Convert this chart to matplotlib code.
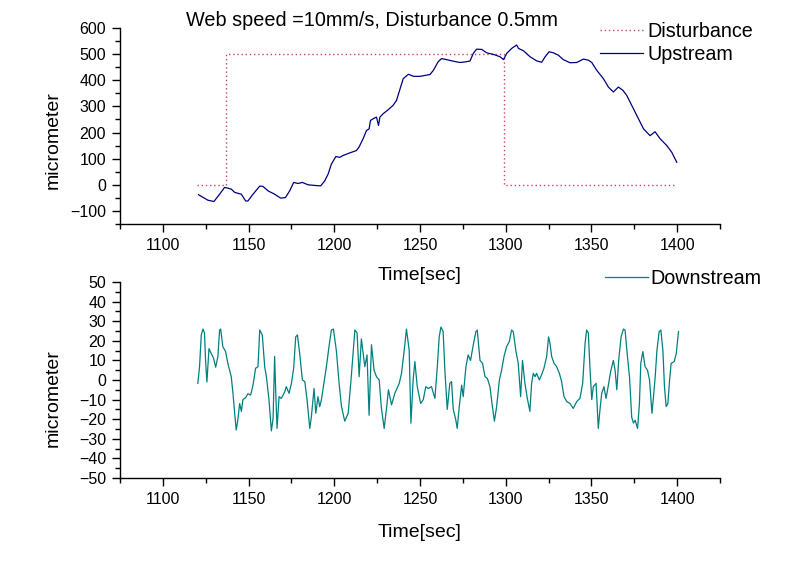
import matplotlib
matplotlib.use("Agg")
import matplotlib.pyplot as plt
from matplotlib.ticker import MultipleLocator

plt.rcParams['font.family'] = ['Liberation Sans', 'DejaVu Sans']

# ---- data ----
dist_t = [1120, 1137, 1137, 1299, 1299, 1398]
dist_v = [0, 0, 500, 500, 0, 0]

up_t = [1120.8, 1126.3, 1129.8, 1133.1, 1136.0, 1138.0, 1140.0, 1141.9, 1145.8, 1148.3,
        1149.6, 1152.6, 1156.5, 1158.4, 1161.3, 1165.2, 1168.7, 1171.5, 1174.0, 1176.3,
        1178.9, 1181.4, 1184.7, 1189.6, 1192.1, 1194.4, 1196.4, 1198.3, 1200.9, 1203.2,
        1205.1, 1209.0, 1212.9, 1214.4, 1216.8, 1218.8, 1220.3, 1221.1, 1222.7, 1224.6,
        1225.8, 1226.6, 1228.5, 1231.4, 1234.3, 1236.3, 1237.8, 1240.2, 1243.2, 1246.2,
        1250.0, 1255.8, 1257.8, 1260.6, 1262.6, 1265.5, 1269.4, 1273.3, 1277.2, 1279.2,
        1281.1, 1283.0, 1286.0, 1288.9, 1292.8, 1296.7, 1298.7, 1300.6, 1303.5, 1306.4,
        1307.4, 1310.3, 1314.2, 1318.1, 1321.0, 1323.0, 1325.3, 1327.8, 1330.7, 1333.6,
        1337.5, 1341.4, 1345.3, 1348.2, 1350.2, 1353.1, 1357.0, 1359.9, 1362.8, 1365.7,
        1368.3, 1370.6, 1374.5, 1377.4, 1380.4, 1384.2, 1387.1, 1390.1, 1394.0, 1396.9,
        1399.8]
up_v = [-38, -59, -64, -36, -10, -13, -17, -29, -36, -62,
        -62, -36, -5, -6, -23, -36, -51, -49, -23, 9,
        5, 9, 0, -3, -4, 15, 41, 79, 108, 105,
        112, 122, 131, 144, 176, 208, 214, 246, 253, 259,
        227, 259, 272, 287, 304, 323, 355, 406, 423, 415,
        415, 422, 438, 471, 483, 479, 473, 468, 471, 474,
        503, 519, 518, 505, 499, 490, 479, 503, 522, 535,
        522, 513, 490, 474, 469, 490, 509, 505, 496, 479,
        467, 468, 481, 477, 468, 438, 406, 374, 355, 374,
        362, 342, 291, 253, 214, 188, 203, 176, 150, 124,
        86]

down_t = [1120.4, 1121.4, 1122.4, 1123.4, 1124.3, 1124.9, 1125.7, 1126.9, 1128.2, 1129.6,
          1130.8, 1132.1, 1133.1, 1133.7, 1135.0, 1136.6, 1137.9, 1139.9, 1140.9, 1141.9,
          1142.8, 1143.8, 1144.8, 1145.8, 1146.7, 1148.3, 1149.6, 1151.2, 1152.6, 1154.1,
          1155.5, 1156.5, 1158.0, 1159.4, 1160.4, 1161.9, 1163.3, 1164.3, 1165.2, 1165.8,
          1166.6, 1167.8, 1169.1, 1171.1, 1172.0, 1173.6, 1175.0, 1176.3, 1177.5, 1178.5,
          1179.8, 1181.4, 1182.8, 1184.1, 1185.7, 1186.6, 1188.2, 1189.2, 1190.5, 1191.5,
          1192.5, 1193.8, 1195.4, 1196.9, 1198.3, 1199.5, 1201.2, 1202.8, 1204.2, 1206.1,
          1208.1, 1210.0, 1212.0, 1213.3, 1214.5, 1215.8, 1217.8, 1219.1, 1220.3, 1221.7,
          1223.2, 1224.6, 1226.2, 1227.5, 1229.1, 1230.4, 1231.6, 1233.4, 1235.3, 1237.9,
          1239.2, 1240.6, 1242.1, 1243.7, 1244.7, 1246.0, 1247.0, 1248.4, 1250.4, 1251.9,
          1253.4, 1254.8, 1256.7, 1258.7, 1260.1, 1261.2, 1262.2, 1263.5, 1264.5, 1265.9,
          1267.4, 1268.4, 1269.4, 1270.8, 1271.7, 1272.9, 1274.3, 1275.2, 1276.8, 1278.1,
          1279.5, 1281.1, 1282.6, 1283.4, 1285.0, 1286.5, 1287.9, 1289.3, 1290.8, 1292.0,
          1293.4, 1294.7, 1296.3, 1297.6, 1299.0, 1300.5, 1302.1, 1303.4, 1304.4, 1305.9,
          1307.3, 1308.7, 1309.8, 1311.2, 1312.6, 1314.1, 1315.1, 1316.1, 1317.1, 1318.0,
          1319.6, 1320.9, 1322.3, 1323.9, 1325.0, 1325.8, 1326.8, 1328.2, 1329.7, 1331.3,
          1332.6, 1334.0, 1335.6, 1337.5, 1339.4, 1341.4, 1343.3, 1344.9, 1346.3, 1347.2,
          1348.2, 1349.2, 1350.2, 1351.1, 1352.7, 1354.0, 1355.0, 1356.0, 1357.3, 1358.5,
          1359.9, 1361.2, 1362.8, 1363.8, 1364.8, 1365.9, 1367.3, 1368.7, 1369.6, 1371.0,
          1372.2, 1373.5, 1374.5, 1375.5, 1376.9, 1378.0, 1378.8, 1380.0, 1381.3, 1382.7,
          1383.9, 1385.3, 1386.2, 1387.2, 1388.2, 1389.5, 1390.5, 1391.7, 1392.6, 1393.6,
          1394.6, 1395.6, 1396.5, 1398.3, 1399.5, 1400.8]
down_v = [-1.7, 6.8, 23, 26, 24, 10, -1, 16, 13.6, 11,
          6.5, 12, 25.5, 26, 17, 14.5, 8.5, 1.7, -6.8, -17,
          -25.5, -20, -12, -16, -10, -9, -7, -7.7, -2.6, 6,
          6.8, 25.5, 23, 6.8, 1.7, -10, -26, -19.6, 12, -5,
          -24.7, -8.5, -9.4, -6, -3.4, -6.8, -1.7, 6, 22, 23,
          13.6, 0, -0.8, -10, -24.7, -19, -4.3, -17, -8.5, -13.6,
          -10, -2.6, 6.8, 17, 25.5, 26, 15, -1.7, -13.6, -21,
          -17, 2.6, 25.5, 24, 1.7, 21, 6.8, 12.8, -18, 18,
          5, 1.7, 0, -14.5, -24.7, -15, -5, -12.7, -6.8, -1.7,
          3.4, 13.6, 26, 15, -22, 0, 9.4, -3.4, -12, -10,
          -3.4, -4.3, -3.4, -9.4, 6.8, 22, 27, 24.7, 5, -15,
          -1.7, -0.8, -15, -20, -24.7, -13.6, -2.6, -8.5, 6.8, 12.8,
          10, 18, 24.7, 25.5, 10, 8.5, 1.7, 0.8, -3.4, -12,
          -21, -13.6, 0, 5, 12, 17, 19.6, 25.5, 24.7, 15,
          8.5, -8.5, 10, -1.7, -9.4, -16, -1.7, 3.4, 1.7, 3.4,
          0, 2.6, 6, 12, 22, 18.8, 12, 8.5, 6.8, 3.4,
          -0.8, -8.5, -11, -12, -14.5, -11, -9.4, -1.7, 18.8, 25.5,
          24, 5, -10, -3.4, -1.7, -24.7, -15, -6.8, -3.4, -9.4,
          -2.6, 4.3, 10, 5, -5, 10, 22, 26, 25.5, 12,
          1.7, -19, -22, -20.5, -24.7, -12, 8.5, 14.5, 6.8, 5,
          0, -17, -8.5, 1.7, 15, 24.7, 25.5, 15, -3.4, -13.6,
          -11.9, 0, 8.5, 9.4, 13.6, 24.7]

title = "Web speed =10mm/s, Disturbance 0.5mm"
xlabel = "Time[sec]"
ylabel = "micrometer"

W, H = 800, 562
fig = plt.figure(figsize=(8.0, 5.62), dpi=100)

def px_axes(x0, y0, x1, y1):
    return fig.add_axes([x0 / W, 1 - y1 / H, (x1 - x0) / W, (y1 - y0) / H])

ax1 = px_axes(120, 28, 720, 224)
ax2 = px_axes(120, 282, 720, 478)
ax1.set_zorder(2)
ax2.set_zorder(1)
ax2.patch.set_visible(False)

for ax in (ax1, ax2):
    for s in ('top', 'right'):
        ax.spines[s].set_visible(False)
    for s in ('left', 'bottom'):
        ax.spines[s].set_linewidth(1.0)
        ax.spines[s].set_color('black')
    ax.set_xlim(1075, 1425)
    ax.xaxis.set_major_locator(MultipleLocator(50))
    ax.xaxis.set_minor_locator(MultipleLocator(25))
    ax.tick_params(which='major', direction='out', length=6, width=1.0,
                   labelsize=11.5, pad=4, color='black')
    ax.tick_params(which='minor', direction='out', length=3.5, width=1.0, color='black')
    ax.set_xlabel(xlabel, fontsize=14)
    ax.set_ylabel(ylabel, fontsize=14)

ax1.plot(dist_t, dist_v, color='#d0406a', linestyle=(0, (1, 2)), linewidth=1.0,
         label='Disturbance')
ax1.plot(up_t, up_v, color='#000080', linewidth=0.9, label='Upstream')
ax1.set_ylim(-150, 600)
ax1.yaxis.set_major_locator(MultipleLocator(100))
ax1.yaxis.set_minor_locator(MultipleLocator(50))

ax2.plot(down_t, down_v, color='#008080', linewidth=0.9, label='Downstream')
ax2.set_ylim(-50, 50)
ax2.yaxis.set_major_locator(MultipleLocator(10))
ax2.yaxis.set_minor_locator(MultipleLocator(5))

ax1.xaxis.set_label_coords(0.5, -0.22)
ax2.xaxis.set_label_coords(0.5, -0.235)
ax1.yaxis.set_label_coords(-0.098, 0.43)
ax2.yaxis.set_label_coords(-0.098, 0.41)

fig.text(372 / W, 1 - 21 / H, title, ha='center', va='center', fontsize=14.3)

leg1 = ax1.legend(loc='upper left', bbox_to_anchor=(600 / W, 1 - 22 / H),
                  bbox_transform=fig.transFigure, frameon=False, fontsize=14.2,
                  handlelength=2.2, handletextpad=0.2, labelspacing=0.22,
                  borderpad=0, borderaxespad=0)
leg2 = ax2.legend(loc='upper left', bbox_to_anchor=(605 / W, 1 - 269 / H),
                  bbox_transform=fig.transFigure, frameon=False, fontsize=14.2,
                  handlelength=2.2, handletextpad=0.1, labelspacing=0.05,
                  borderpad=0, borderaxespad=0)

fig.savefig('out.png', dpi=100)
